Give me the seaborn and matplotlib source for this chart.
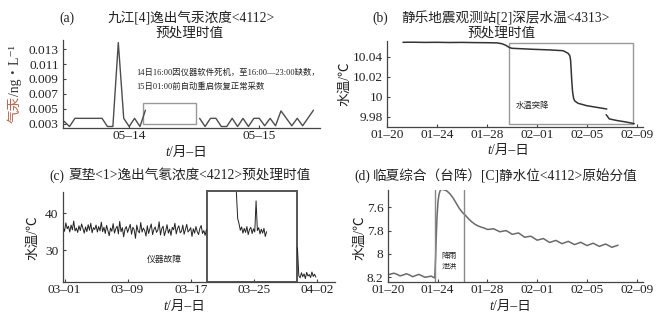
import numpy as np
import pandas as pd
import matplotlib
matplotlib.use("Agg")
import matplotlib.pyplot as plt
import matplotlib.dates as mdates
import seaborn as sns
from matplotlib.patches import Rectangle

# ---------------- data ----------------
# (a) 九江[4] 逸出气汞浓度, hourly, hours after 05-14 00:00
hg_hours_before = [0, 1, 2, 3, 4, 5, 6, 7, 8, 9, 10, 11, 12, 13, 14, 15]
hg_before = [0.0033, 0.0026, 0.0037, 0.0037, 0.0037, 0.0037, 0.0037, 0.0037,
             0.0026, 0.0026, 0.0139, 0.0037, 0.0026, 0.0037, 0.0026, 0.0048]
hg_hours_after = [25, 26, 27, 28, 29, 30, 31, 32, 33, 34, 35, 36, 37, 38, 39,
                  40, 41, 42, 43, 44, 46]
hg_after = [0.0037, 0.0026, 0.0037, 0.0037, 0.0026, 0.0026, 0.0037, 0.0026,
            0.0037, 0.0026, 0.0037, 0.0037, 0.0027, 0.0037, 0.0027, 0.0047,
            0.0037, 0.0027, 0.0037, 0.0027, 0.0048]
hg_ticks = ["05–14", "05–15"]

# (b) 静乐 深层水温, days after 01-20
wt_days_1 = [1.28, 2.0, 3.0, 4.0, 5.0, 6.0, 7.0, 8.0, 8.8, 9.2, 9.5, 9.8, 10.0,
             11.7, 13.0, 14.1, 14.5, 14.64, 14.7, 14.74, 14.8, 14.86, 14.94,
             15.04, 15.3, 16.0, 17.6]
wt_vals_1 = [10.0544, 10.0545, 10.0543, 10.0544, 10.0542, 10.0543, 10.0541,
             10.0540, 10.0538, 10.0530, 10.0515, 10.0492, 10.0484, 10.0474,
             10.0468, 10.0460, 10.0434, 10.0410, 10.0367, 10.0284, 10.0150,
             10.0050, 9.9984, 9.9957, 9.9934, 9.9910, 9.9877]
wt_days_2 = [17.55, 17.8, 18.4, 19.0, 19.5, 19.8]
wt_vals_2 = [9.9820, 9.9778, 9.9762, 9.9750, 9.9738, 9.9730]
jan_ticks = ["01–20", "01–24", "01–28", "02–01", "02–05", "02–09"]

# (c) 夏垫<1> 逸出气氡浓度 (4-hourly)
rn_seg1 = [36.2, 35.1, 37.4, 35.8, 36.5, 34.9, 36.8, 35.5, 37.9, 35.2, 36.0, 34.8,
           36.6, 35.3, 37.1, 35.9, 34.6, 36.3, 35.0, 36.9, 35.4, 37.3, 34.7, 36.1,
           35.6, 36.8, 34.9, 36.4, 35.2, 37.6, 35.0, 36.2, 34.5, 36.7, 35.3, 33.9,
           36.0, 35.1, 37.2, 34.6, 35.8, 36.5, 34.4, 37.8, 35.0, 36.1, 33.6, 35.7,
           36.4, 34.8, 35.9, 37.0, 34.3, 36.2, 35.5, 33.2, 36.8, 35.1, 34.7, 37.5,
           34.9, 36.0, 35.3, 33.8, 36.6, 34.5, 35.9, 37.1, 34.2, 35.6, 36.3, 34.8,
           35.4, 37.7, 34.1, 35.8, 36.5, 33.9, 35.2, 36.9, 34.6, 35.7, 34.0, 36.2,
           35.5, 37.3, 34.4, 35.9, 36.6, 34.7, 35.1, 36.8, 34.3, 35.6, 37.0, 34.9,
           35.4, 36.1, 33.7, 35.8, 34.6, 36.4, 35.0, 34.2, 35.9, 36.7, 34.5, 35.3,
           34.0, 35.6]
rn_seg2 = [45.8, 38.6, 37.2, 35.4, 36.3, 34.6, 35.9, 34.8, 36.4, 34.2, 35.6, 36.2,
           34.5, 35.8, 34.9, 43.4, 35.3, 36.1, 34.4, 35.7, 34.6, 35.9, 33.7, 35.0]
rn_seg3 = [30.6, 23.0, 22.4, 23.8, 22.7, 23.5, 22.2, 23.9, 22.9, 23.3, 22.5, 24.0,
           22.8, 23.4, 22.6]
rn_starts = ["2020-02-29 20:00", "2020-03-22 19:00", "2020-03-30 13:00"]
mar_ticks = ["03–01", "03–09", "03–17", "03–25", "04–02"]

# (d) 临夏综合 静水位 (6-hourly before/after, rise in between), days after 01-20
wl_before = [8.180, 8.172, 8.165, 8.175, 8.188, 8.180, 8.170, 8.180, 8.195, 8.185,
             8.175, 8.188, 8.200, 8.195, 8.190, 8.205]
wl_rise_days = [3.78, 3.84, 3.90, 3.96, 4.04, 4.12, 4.22, 4.32]
wl_rise = [8.200, 8.050, 7.850, 7.680, 7.550, 7.490, 7.455, 7.446]
wl_after = [7.450, 7.460, 7.485, 7.520, 7.565, 7.610, 7.645, 7.670, 7.700, 7.725,
            7.745, 7.760, 7.770, 7.778, 7.790, 7.788, 7.784, 7.797, 7.810, 7.805,
            7.800, 7.815, 7.832, 7.826, 7.820, 7.838, 7.857, 7.852, 7.848, 7.865,
            7.882, 7.875, 7.868, 7.885, 7.902, 7.893, 7.884, 7.898, 7.912, 7.902,
            7.892, 7.906, 7.920, 7.910, 7.900, 7.914, 7.928, 7.918, 7.908, 7.922,
            7.935, 7.925, 7.915, 7.929, 7.943, 7.934, 7.925]

# ---------------- style ----------------
sns.set_style("ticks")
FAM = ["Liberation Serif", "Noto Sans CJK SC", "DejaVu Sans"]
plt.rcParams["font.family"] = FAM
plt.rcParams["axes.unicode_minus"] = False

W, H = 666, 320
fig = plt.figure(figsize=(W / 100, H / 100), dpi=100)


def ax_at(l, t, r, b):
    return fig.add_axes([l / W, 1 - b / H, (r - l) / W, (b - t) / H])


def style(ax):
    sns.despine(ax=ax)
    for s in ("left", "bottom"):
        ax.spines[s].set_color("#444444")
        ax.spines[s].set_linewidth(0.9)
    ax.tick_params(axis="both", direction="in", length=2.5, width=0.8,
                   colors="#444444", labelcolor="#222222", labelsize=9.6)
    ax.tick_params(axis="x", pad=1.5)
    ax.tick_params(axis="y", pad=3)
    ax.set_xlabel("")
    ax.set_ylabel("")
    ax.set_facecolor("white")


def ftext(x, y, s, size=9.8, **kw):
    kw.setdefault("ha", "center")
    kw.setdefault("va", "center")
    kw.setdefault("color", "#222222")
    return fig.text(x / W, 1 - y / H, s, fontsize=size, **kw)


renderer = fig.canvas.get_renderer()


def parts_text(cx, cy, parts, size=9.8, rotation=0):
    objs, lens = [], []
    for s, kw in parts:
        t = fig.text(0, 0, s, fontsize=size, rotation=rotation,
                     ha="left" if rotation == 0 else "center",
                     va="baseline" if rotation == 0 else "bottom", **kw)
        bb = t.get_window_extent(renderer=renderer)
        lens.append(bb.width if rotation == 0 else bb.height)
        objs.append(t)
    total = sum(lens)
    if rotation == 0:
        x = cx - total / 2
        for t, L in zip(objs, lens):
            t.set_position((x / W, 1 - (cy + 3.5) / H))
            x += L
    else:
        ypix = (H - cy) - total / 2
        for t, L in zip(objs, lens):
            t.set_position((cx / W, ypix / H))
            ypix += L


def xlabel(cx, cy):
    parts_text(cx, cy, [("t", dict(style="italic", color="#222222")),
                        ("/月–日", dict(color="#222222"))], size=9.8)


# ---------------- (a) ----------------
axA = ax_at(63, 40, 320, 128)
base_a = pd.Timestamp("2020-05-14")
dfA = pd.DataFrame({
    "t": base_a + pd.to_timedelta(hg_hours_before + hg_hours_after, unit="h"),
    "v": hg_before + hg_after,
    "seg": [0] * len(hg_before) + [1] * len(hg_after),
})
sns.lineplot(data=dfA, x="t", y="v", units="seg", estimator=None,
             color="#4d4d4d", linewidth=1.0, ax=axA, legend=False)
axA.set_xlim(base_a + pd.Timedelta(hours=-0.2), base_a + pd.Timedelta(hours=47.2))
axA.set_ylim(0.0024, 0.01425)
axA.set_yticks([0.003, 0.005, 0.007, 0.009, 0.011, 0.013])
axA.set_yticklabels(["0.003", "0.005", "0.007", "0.009", "0.011", "0.013"])
axA.set_xticks([base_a + pd.Timedelta(hours=12), base_a + pd.Timedelta(hours=36)])
axA.set_xticklabels(hg_ticks)
style(axA)
r0 = mdates.date2num(base_a + pd.Timedelta(hours=14.6))
r1 = mdates.date2num(base_a + pd.Timedelta(hours=24.4))
axA.add_patch(Rectangle((r0, 0.0029), r1 - r0, 0.00288, fill=False,
                        edgecolor="#999999", linewidth=1.0))
axA.text(mdates.date2num(base_a + pd.Timedelta(hours=13.4)), 0.0098,
         "14日16:00因仪器软件死机，至16:00—23:00缺数，", fontsize=6, color="#222222",
         ha="left", va="center")
axA.text(mdates.date2num(base_a + pd.Timedelta(hours=13.4)), 0.0080,
         "15日01:00前自动重启恢复正常采数", fontsize=6, color="#222222",
         ha="left", va="center")
ftext(67, 18, "(a)")
ftext(191, 18, "九江[4]逸出气汞浓度<4112>")
ftext(189, 33, "预处理时值")
parts_text(15, 84, [("气汞", dict(color="#b5654a")),
                    ("/ng・L⁻¹", dict(color="#333333"))], size=9.8, rotation=90)
xlabel(186, 152)

# ---------------- (b) ----------------
axB = ax_at(387, 41, 643, 127)
base_j = pd.Timestamp("2020-01-20")
dfB = pd.DataFrame({
    "t": base_j + pd.to_timedelta(wt_days_1 + wt_days_2, unit="D"),
    "v": wt_vals_1 + wt_vals_2,
    "seg": [0] * len(wt_vals_1) + [1] * len(wt_vals_2),
})
sns.lineplot(data=dfB, x="t", y="v", units="seg", estimator=None,
             color="#333333", linewidth=1.1, ax=axB, legend=False)
axB.set_xlim(base_j, base_j + pd.Timedelta(days=20.5))
axB.set_ylim(9.9697, 10.0557)
axB.set_yticks([9.98, 10.0, 10.02, 10.04])
axB.set_yticklabels(["9.98", "10", "10.02", "10.04"])
jt = [base_j + pd.Timedelta(days=4 * i) for i in range(6)]
axB.set_xticks(jt)
axB.set_xticklabels(jan_ticks)
style(axB)
b0 = mdates.date2num(base_j + pd.Timedelta(days=9.76))
b1 = mdates.date2num(base_j + pd.Timedelta(days=19.68))
axB.add_patch(Rectangle((b0, 9.9727), b1 - b0, 10.0537 - 9.9727, fill=False,
                        edgecolor="#999999", linewidth=1.0))
axB.text(mdates.date2num(base_j + pd.Timedelta(days=11.65)), 9.9915, "水温突降",
         fontsize=6, color="#222222", ha="center", va="center")
ftext(380, 18, "(b)")
ftext(506, 18, "静乐地震观测站[2]深层水温<4313>")
ftext(501, 33, "预处理时值")
ftext(345, 84, "水温/℃", rotation=90)
xlabel(508, 150)

# ---------------- (c) ----------------
axC = ax_at(62.7, 191.7, 335, 281.7)
frames = []
for k, (st, vals) in enumerate(zip(rn_starts, [rn_seg1, rn_seg2, rn_seg3])):
    frames.append(pd.DataFrame({"t": pd.date_range(st, periods=len(vals), freq="4h"),
                                "v": vals, "seg": k}))
dfC = pd.concat(frames, ignore_index=True)
sns.lineplot(data=dfC, x="t", y="v", units="seg", estimator=None,
             color="#222222", linewidth=0.7, ax=axC, legend=False)
base_m = pd.Timestamp("2020-03-01")
axC.set_xlim(base_m + pd.Timedelta(days=-0.23), base_m + pd.Timedelta(days=34.3))
axC.set_ylim(21.36, 45.9)
axC.set_yticks([30, 40])
axC.set_yticklabels(["30", "40"])
axC.set_xticks([base_m + pd.Timedelta(days=8 * i) for i in range(5)])
axC.set_xticklabels(mar_ticks)
style(axC)
c0 = mdates.date2num(base_m + pd.Timedelta(days=18.06))
c1 = mdates.date2num(base_m + pd.Timedelta(days=29.53))
axC.add_patch(Rectangle((c0, 21.36), c1 - c0, 46.2 - 21.36, fill=False,
                        edgecolor="#555555", linewidth=1.4, clip_on=False))
axC.text(mdates.date2num(base_m + pd.Timedelta(days=12.7)), 27.4, "仪器故障",
         fontsize=6.3, color="#222222", ha="center", va="center")
ftext(57, 176, "(c)")
ftext(190, 176, "夏垫<1>逸出气氡浓度<4212>预处理时值")
ftext(33, 238, "水温/℃", rotation=90)
xlabel(184, 306.7)

# ---------------- (d) ----------------
axD = ax_at(387.7, 190, 643, 282.3)
t_before = pd.date_range("2020-01-20 00:00", periods=len(wl_before), freq="6h")
t_rise = base_j + pd.to_timedelta(wl_rise_days, unit="D")
t_after = pd.date_range("2020-01-24 12:00", periods=len(wl_after), freq="6h")
dfD = pd.DataFrame({
    "t": list(t_before) + list(t_rise) + list(t_after),
    "v": wl_before + wl_rise + wl_after,
})
sns.lineplot(data=dfD, x="t", y="v", estimator=None, color="#6a6a6a",
             linewidth=1.1, ax=axD, legend=False)
axD.set_xlim(base_j + pd.Timedelta(days=0.05), base_j + pd.Timedelta(days=20.5))
axD.set_ylim(8.243, 7.452)
axD.set_yticks([7.6, 7.8, 8.0, 8.2])
axD.set_yticklabels(["7.6", "7.8", "8", "8.2"])
axD.set_xticks(jt)
axD.set_xticklabels(jan_ticks)
style(axD)
for dd in (3.76, 6.1):
    axD.axvline(base_j + pd.Timedelta(days=dd), color="#888888", linewidth=1.0)
axD.text(mdates.date2num(base_j + pd.Timedelta(days=4.95)), 8.015, "降雨",
         fontsize=5.5, color="#222222", ha="center", va="center")
axD.text(mdates.date2num(base_j + pd.Timedelta(days=4.95)), 8.11, "泄洪",
         fontsize=5.5, color="#222222", ha="center", va="center")
ftext(362, 176, "(d)")
ftext(505, 176, "临夏综合（台阵）[C]静水位<4112>原始分值")
ftext(360, 238, "水温/℃", rotation=90)
xlabel(510, 306.7)

fig.savefig("out.png", dpi=100, facecolor="white")
